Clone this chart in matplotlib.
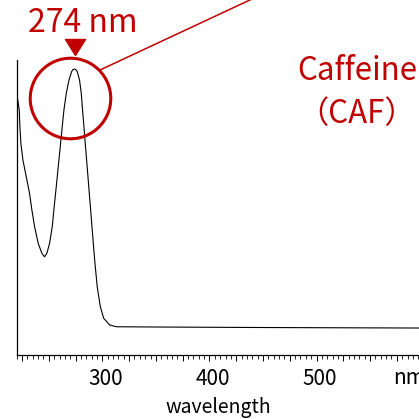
import matplotlib
matplotlib.use("Agg")
import matplotlib.pyplot as plt
from matplotlib.ticker import MultipleLocator, FuncFormatter
from matplotlib.transforms import ScaledTranslation
from matplotlib.path import Path

plt.rcParams['font.family'] = ['Noto Sans CJK JP', 'DejaVu Sans']

# UV absorption spectrum of caffeine (normalised absorbance)
wavelength = [220.0, 222.4, 223.0, 223.9, 225.8, 228.9, 232.0, 234.2, 236.7,
              240.1, 243.5, 246.0, 248.2, 250.7, 253.2, 254.7, 256.3, 257.9,
              259.4, 261.0, 262.5, 264.1, 266.3, 268.8, 271.3, 272.6, 274.0,
              275.3, 276.6, 278.7, 280.3, 281.5, 282.8, 284.0, 285.3, 287.8,
              290.3, 292.8, 295.2, 298.1, 301.2, 306.8, 313.0, 350.0, 450.0,
              600.0]
absorbance = [0.906, 0.841, 0.776, 0.712, 0.647, 0.583, 0.518, 0.453, 0.389,
              0.324, 0.286, 0.272, 0.286, 0.324, 0.389, 0.453, 0.518, 0.583,
              0.647, 0.712, 0.776, 0.841, 0.906, 0.957, 0.990, 0.998, 1.000,
              0.997, 0.990, 0.957, 0.906, 0.841, 0.776, 0.712, 0.647, 0.518,
              0.389, 0.260, 0.156, 0.079, 0.034, 0.008, 0.001, 0.0, -0.002,
              -0.004]

peak_nm = 274
peak_label = f"{peak_nm} nm"
compound_lines = ["Caffeine", "（CAF）"]
x_tick_labels = {300: "300", 400: "400", 500: "500"}

RED = "#C00000"
W = H = 419
DPI = 100

fig = plt.figure(figsize=(W / DPI, H / DPI), dpi=DPI)
ax = fig.add_axes([16.7 / W, (H - 355) / H, 1 - 16.7 / W, (355 - 60) / H])

ax.plot(wavelength, absorbance, color="black", lw=0.8,
        solid_joinstyle="round", solid_capstyle="round")

ax.set_xlim(220, 595.7)
ax.set_ylim(-0.1085, 1.035)

for side in ("top", "right"):
    ax.spines[side].set_visible(False)
for side in ("left", "bottom"):
    ax.spines[side].set_linewidth(0.9)
    ax.spines[side].set_color("black")

ax.set_yticks([])
ax.xaxis.set_major_locator(MultipleLocator(25))
ax.xaxis.set_minor_locator(MultipleLocator(5))
ax.xaxis.set_major_formatter(FuncFormatter(lambda v, p: x_tick_labels.get(int(round(v)), "")))
ax.tick_params(axis="x", which="major", length=4.6, width=0.7, pad=4.5,
               labelsize=15, direction="out")
ax.tick_params(axis="x", which="minor", length=3.0, width=0.6, direction="out")
shift = ScaledTranslation(3 / DPI, 0, fig.dpi_scale_trans)
for lbl in ax.get_xticklabels():
    lbl.set_transform(lbl.get_transform() + shift)

ax.set_xlabel("wavelength", fontsize=14, labelpad=5.5)

# unit label at the right end of the axis
fig.text(393 / W, 1 - 384.3 / H, "nm", fontsize=15, ha="left", va="baseline")

# peak marker and highlight
tri = Path([(-1, 0.8), (1, 0.8), (0, -0.8), (-1, 0.8)],
           [Path.MOVETO, Path.LINETO, Path.LINETO, Path.CLOSEPOLY])
ax.plot([peak_nm], [1.085], marker=tri, ms=14.4, color=RED, mec=RED,
        ls="none", clip_on=False)
ax.plot([269.4], [0.886], marker="o", ms=58, mfc="none", mec=RED, mew=2.2,
        ls="none", clip_on=False)

# leader line towards the right
fig.add_artist(plt.Line2D([100 / W, 252 / W], [1 - 70 / H, 1 - (-1) / H],
                          color=RED, lw=1.1))

fig.text(28 / W, 1 - 32 / H, peak_label, color=RED, fontsize=23,
         ha="left", va="baseline")
fig.text(357 / W, 1 - 80 / H, compound_lines[0], color=RED, fontsize=22.5,
         ha="center", va="baseline")
fig.text(357 / W, 1 - 123 / H, compound_lines[1], color=RED, fontsize=22.5,
         ha="center", va="baseline")

fig.savefig("out.png", dpi=DPI)
